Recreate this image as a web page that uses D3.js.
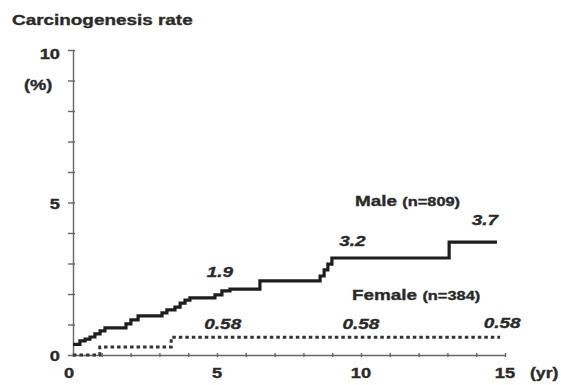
<!DOCTYPE html>
<html>
<head>
<meta charset="utf-8">
<script src="https://cdn.jsdelivr.net/npm/d3@7"></script>
<style>
    body { margin: 0; background: #fff; }
    text { font-family: "Liberation Sans", Arial, sans-serif; font-weight: bold; fill: #2a2a2a; stroke: #2a2a2a; stroke-width: 0.35px; }
</style>
</head>
<body>
<div id="chart"></div>
<script>
'use strict'

////////////////////////////////////
/////////////// data ///////////////
////////////////////////////////////

// cumulative rate (%) by year, step after each time
const maleYears = [0, 0.24, 0.42, 0.59, 0.76, 0.94, 1.11, 1.84, 2.01, 2.26, 3.09, 3.26, 3.54, 3.72, 3.89, 4.06, 4.93, 5.17, 5.45, 6.49, 8.58, 8.72, 8.85, 8.99, 13.06, 14.72]
const maleRates = [0.35, 0.46, 0.52, 0.59, 0.69, 0.79, 0.89, 1.02, 1.15, 1.28, 1.38, 1.48, 1.57, 1.70, 1.80, 1.87, 1.97, 2.10, 2.16, 2.43, 2.59, 2.79, 2.98, 3.18, 3.70, 3.70]

const femaleYears = [0, 0.93, 3.41, 14.83]
const femaleRates = [0, 0.26, 0.58, 0.58]

const yTicks = [0, 1, 2, 3, 4, 5, 6, 7, 8, 9, 10]
const yLabels = [0, 5, 10]
const xTicks = [0, 1, 2, 3, 4, 5, 6, 7, 8, 9, 10, 11, 12, 13, 14, 15]
const xLabels = [0, 5, 10, 15]

// value annotations: year and rate they belong to, and the text
const noteYears = [5.1, 9.7, 14.3, 5.2, 10, 14.9]
const noteRates = [1.9, 3.2, 3.7, 0.58, 0.58, 0.58]
const noteTexts = ["1.9", "3.2", "3.7", "0.58", "0.58", "0.58"]

////////////////////////////////////
//////////// svg setup /////////////
////////////////////////////////////

const svgWidth = 561
const svgHeight = 385
const stretchK = 1.26   // the scan is wider than the font

// how far above its level each note sits (px)
const noteLift = [20, 11, 17, 8, 8, 9]

const svg = d3.select('#chart')
    .append('svg')
    .attr('width', svgWidth)
    .attr('height', svgHeight)

const x = d3.scaleLinear().domain([0, 15]).range([73, 505])
const y = d3.scaleLinear().domain([0, 10]).range([355, 50])

// widen text like the original print
const stretch = sel => sel.each(function () {
    const len = this.getComputedTextLength()
    d3.select(this).attr('textLength', len * stretchK).attr('lengthAdjust', 'spacingAndGlyphs')
})

////////////////////////////////////
/////////////// axes ///////////////
////////////////////////////////////

const yAxis = svg.append('g')
    .attr('transform', `translate(${x(0)},0)`)
    .call(d3.axisLeft(y).tickValues(yTicks).tickSize(5).tickSizeOuter(0).tickFormat(''))
yAxis.selectAll('line').attr('x2', -5).attr('x1', 2)
yAxis.selectAll('line, path').attr('stroke', '#666').attr('stroke-width', 1.4)

const xAxis = svg.append('g')
    .attr('transform', `translate(0,${y(0)})`)
    .call(d3.axisBottom(x).tickValues(xTicks).tickSize(2).tickSizeOuter(0).tickFormat(''))
xAxis.selectAll('line').attr('y1', -2).attr('y2', 2)
xAxis.selectAll('line, path').attr('stroke', '#666').attr('stroke-width', 1.4)

svg.append('g').selectAll('text')
    .data(yLabels)
    .join('text')
    .attr('x', 60)
    .attr('y', d => y(d) + 6 + (d === 10 ? 3 : 0))
    .attr('text-anchor', 'end')
    .style('font-size', '14.5px')
    .text(d => d)
    .call(stretch)

svg.append('g').selectAll('text')
    .data(xLabels)
    .join('text')
    .attr('x', d => x(d) - (d === 0 ? 4 : 0))
    .attr('y', 378)
    .attr('text-anchor', 'middle')
    .style('font-size', '14.5px')
    .text(d => d)
    .call(stretch)

svg.append('text').attr('x', 12).attr('y', 25).style('font-size', '15px')
    .text('Carcinogenesis rate').call(stretch)
svg.append('text').attr('x', 24).attr('y', 90).style('font-size', '14.5px')
    .text('(%)').call(stretch)
svg.append('text').attr('x', 530).attr('y', 378).style('font-size', '14px')
    .text('(yr)').call(stretch)

////////////////////////////////////
/////////////// lines //////////////
////////////////////////////////////

const line = d3.line()
    .x(d => x(d[0]))
    .y(d => y(d[1]))
    .curve(d3.curveStepAfter)

svg.append('path')
    .datum(d3.zip(femaleYears, femaleRates))
    .attr('d', line)
    .attr('fill', 'none')
    .attr('stroke', '#333')
    .attr('stroke-width', 3)
    .attr('stroke-dasharray', '3.5,3')

svg.append('path')
    .datum(d3.zip(maleYears, maleRates))
    .attr('d', line)
    .attr('fill', 'none')
    .attr('stroke', '#1e1e1e')
    .attr('stroke-width', 3.2)

////////////////////////////////////
//////////// annotations ///////////
////////////////////////////////////

svg.append('g').selectAll('text')
    .data(noteTexts)
    .join('text')
    .attr('x', (d, i) => x(noteYears[i]))
    .attr('y', (d, i) => y(noteRates[i]) - noteLift[i])
    .attr('text-anchor', 'middle')
    .style('font-size', '15px')
    .style('font-style', 'italic')
    .text(d => d)
    .call(stretch)

const male = svg.append('text').attr('x', 355).attr('y', 206).style('font-size', '15px')
male.append('tspan').text('Male ')
male.append('tspan').style('font-size', '13px').text('(n=809)')
male.call(stretch)

const female = svg.append('text').attr('x', 352).attr('y', 300).style('font-size', '15px')
female.append('tspan').text('Female ')
female.append('tspan').style('font-size', '13px').text('(n=384)')
female.call(stretch)
</script>
</body>
</html>
